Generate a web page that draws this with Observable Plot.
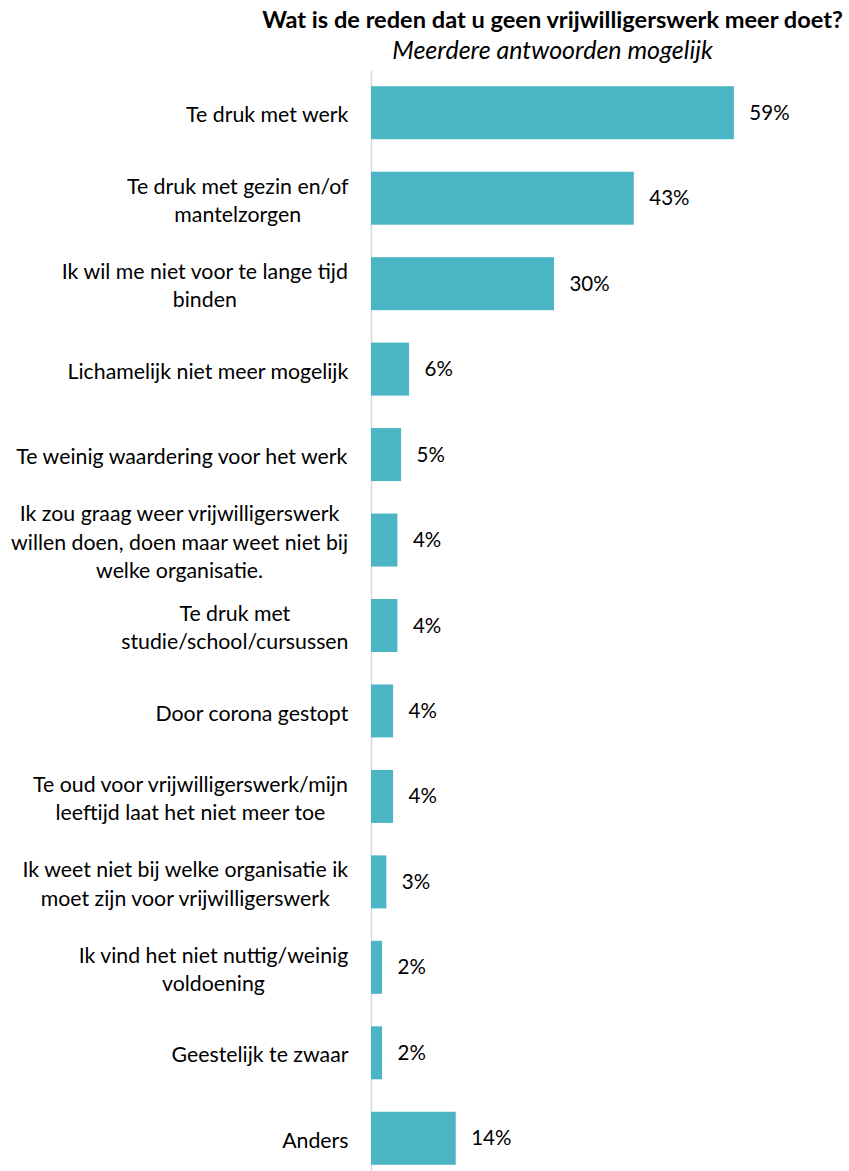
<!DOCTYPE html>
<html>
<head>
<meta charset="utf-8">
<script src="https://cdn.jsdelivr.net/npm/d3@7"></script>
<script src="https://cdn.jsdelivr.net/npm/@observablehq/plot@0.6"></script>
<style>
  html, body { margin: 0; padding: 0; background: #fff; overflow: hidden; }
  body { width: 849px; height: 1171px; position: relative; font-family: "Lato", sans-serif; color: #000; }
  #title { position: absolute; top: 5px; left: 258px; width: 589px; text-align: center; font-weight: bold; font-size: 23.6px; line-height: 28px; white-space: nowrap; }
  #subtitle { position: absolute; top: 34px; left: 258px; width: 589px; text-align: center; font-style: italic; font-size: 25px; line-height: 30px; white-space: nowrap; }
  #chart { position: absolute; top: 70px; left: 0; }
</style>
</head>
<body>
<div id="title">Wat is de reden dat u geen vrijwilligerswerk meer doet?</div>
<div id="subtitle">Meerdere antwoorden mogelijk</div>
<div id="chart"></div>
<script>
const categories = [
  "Te druk met werk",
  "Te druk met gezin en/of\nmantelzorgen",
  "Ik wil me niet voor te lange tijd\nbinden",
  "Lichamelijk niet meer mogelijk",
  "Te weinig waardering voor het werk",
  "Ik zou graag weer vrijwilligerswerk\nwillen doen, doen maar weet niet bij\nwelke organisatie.",
  "Te druk met\nstudie/school/cursussen",
  "Door corona gestopt",
  "Te oud voor vrijwilligerswerk/mijn\nleeftijd laat het niet meer toe",
  "Ik weet niet bij welke organisatie ik\nmoet zijn voor vrijwilligerswerk",
  "Ik vind het niet nuttig/weinig\nvoldoening",
  "Geestelijk te zwaar",
  "Anders"
];
const values = [59.1, 42.8, 29.8, 6.2, 4.9, 4.3, 4.3, 3.6, 3.6, 2.5, 1.8, 1.8, 13.8];
const valueLabels = ["59%", "43%", "30%", "6%", "5%", "4%", "4%", "4%", "4%", "3%", "2%", "2%", "14%"];

const data = categories.map((c, i) => ({category: c, value: values[i], label: valueLabels[i]}));

const labelFontSize = 21.3;
const fontFamily = "Lato";
const ctx = document.createElement("canvas").getContext("2d");
ctx.font = `${labelFontSize}px ${fontFamily}`;
const blockWidth = (s) => Math.max(...s.split("\n").map(l => ctx.measureText(l).width));

const labelMarks = data.map(d => Plot.text([d], {
  y: "category", x: () => 0, text: "category",
  textAnchor: "middle", lineHeight: 1.33, fontSize: labelFontSize,
  dx: -(23 + blockWidth(d.category) / 2), fill: "#000"
}));

const chart = Plot.plot({
  width: 849,
  height: 1111,
  marginTop: 0, marginBottom: 0, marginLeft: 371, marginRight: 110,
  style: {fontFamily: fontFamily, fontSize: "21px", color: "#000", background: "white"},
  x: {domain: [0, 60], range: [371, 739.4], axis: null},
  y: {domain: categories, range: [0, 1111], paddingInner: 0.38, paddingOuter: 0.19, round: false, axis: null},
  marks: [
    Plot.ruleX([0], {stroke: "#d9d9d9", strokeWidth: 1.5}),
    Plot.barX(data, {y: "category", x: "value", fill: "#4BB5C5"}),
    Plot.text(data, {y: "category", x: "value", text: "label", textAnchor: "start", dx: 15, fontSize: 20.5, fill: "#000"}),
    ...labelMarks
  ]
});
document.getElementById("chart").appendChild(chart);
</script>
</body>
</html>
